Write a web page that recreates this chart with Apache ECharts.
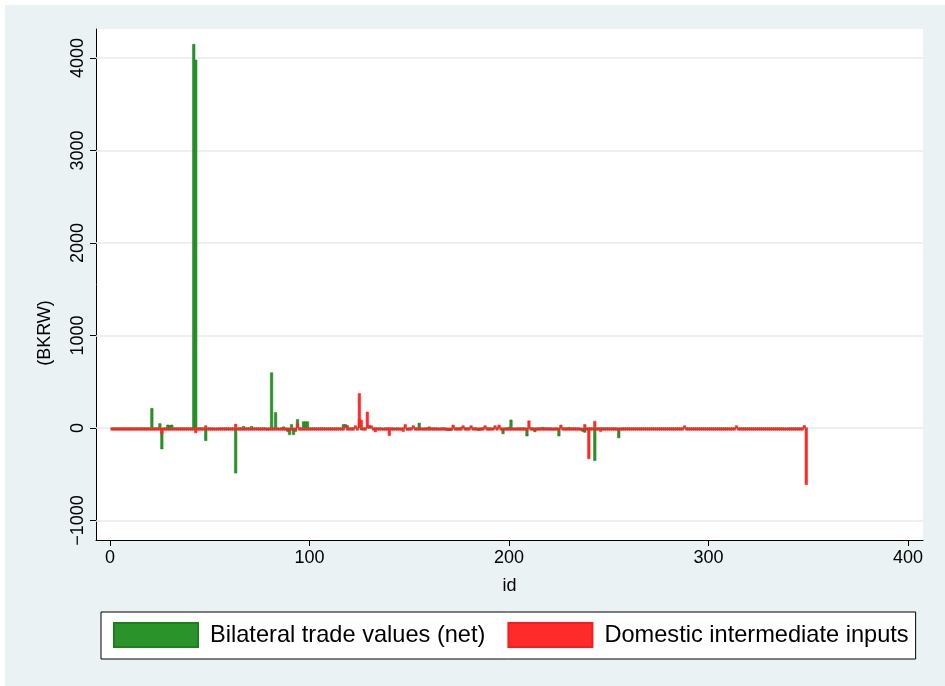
<!DOCTYPE html>
<html>
<head>
<meta charset="utf-8">
<script src="https://cdn.jsdelivr.net/npm/echarts@6/dist/echarts.min.js"></script>
<style>
html,body{margin:0;padding:0;background:#fff;}
#chart{width:945px;height:686px;}
</style>
</head>
<body>
<div id="chart"></div>
<script>
// Series values for id = 1 .. 349 (BKRW)
var bilateralNet = [
  0,0,0,0,0,0,0,0,0,0,
  0,0,0,0,0,0,0,0,0,0,
  215,0,0,0,50,-230,0,0,35,30,
  35,0,0,0,0,0,0,0,0,0,
  0,4150,3980,0,0,0,0,-140,0,0,
  0,0,-20,0,0,0,0,5,0,0,
  0,0,-490,0,0,0,20,0,0,0,
  20,0,0,0,0,0,0,0,-25,0,
  600,0,170,0,-15,0,15,0,-40,-75,
  40,-75,-40,95,0,0,70,70,70,0,
  0,0,0,0,0,5,0,0,0,0,
  0,0,0,0,0,0,40,40,30,0,
  0,0,0,0,100,-25,0,0,0,0,
  0,0,0,0,0,0,-20,0,0,0,
  0,0,-10,0,0,-15,0,0,-25,0,
  0,0,0,0,55,0,-10,0,0,15,
  0,0,0,0,-20,0,0,0,-30,-30,
  -30,0,0,0,0,10,0,0,0,0,
  0,0,0,0,-30,0,0,0,0,0,
  0,-15,0,0,0,0,-65,0,0,10,
  90,0,-10,0,0,0,0,0,-90,0,
  0,0,-45,0,0,0,10,0,0,0,
  0,-25,0,0,-90,0,0,0,0,10,
  0,0,0,0,0,-25,-40,-50,0,0,
  0,0,-355,0,0,0,0,0,0,0,
  0,0,0,0,-110,0,0,0,0,0,
  0,0,0,0,0,0,0,0,0,0,
  0,0,0,0,0,0,0,0,0,0,
  0,0,0,0,0,0,0,0,0,0,
  0,0,0,0,0,0,0,0,0,0,
  0,0,0,0,0,0,0,0,0,0,
  0,0,0,0,0,0,0,0,0,0,
  0,0,0,0,0,0,0,0,0,0,
  0,0,0,0,0,0,0,0,-5,0,
  0,0,0,0,0,0,0,0,0
];
var domesticInputs = [
  0,0,0,0,0,0,0,0,0,0,
  0,0,0,0,0,0,0,0,0,0,
  0,0,0,0,0,-65,0,0,0,0,
  0,0,0,0,0,0,0,0,0,0,
  0,0,-55,0,0,0,0,10,0,0,
  0,0,0,0,0,0,0,0,0,0,
  0,0,45,0,0,0,0,0,0,0,
  0,0,0,0,0,0,0,0,0,0,
  0,0,0,0,0,0,0,0,0,0,
  0,0,0,50,0,0,0,0,0,0,
  0,0,0,0,0,0,0,0,0,0,
  0,0,0,0,0,0,0,30,0,0,
  0,0,10,0,375,85,0,0,175,30,
  15,0,-45,0,0,0,0,0,0,-85,
  0,0,0,0,0,0,-40,40,0,0,
  -15,25,-20,0,0,0,0,0,0,0,
  0,0,0,0,0,0,0,0,0,0,
  0,35,0,0,0,0,10,0,0,0,
  20,0,0,0,0,0,0,15,0,0,
  0,0,20,0,35,0,0,0,0,0,
  0,0,0,0,0,0,0,0,0,80,
  0,-20,0,0,0,0,0,0,0,0,
  -20,0,0,0,0,35,-20,0,0,0,
  0,0,0,0,0,0,0,40,0,-335,
  0,0,75,0,0,-40,0,0,0,0,
  0,0,0,0,0,0,0,0,0,0,
  0,0,0,0,0,0,0,0,0,0,
  0,0,0,0,0,0,0,0,0,0,
  0,0,0,-10,0,0,0,5,0,0,
  0,0,0,0,0,0,0,0,0,0,
  0,0,0,0,0,0,0,0,0,0,
  0,0,0,5,0,0,0,0,0,0,
  0,0,0,0,0,0,0,0,0,0,
  0,0,0,0,0,0,0,0,0,0,
  0,0,0,0,0,0,0,30,-615
];
var firstId = 1;
var xTicks = [0, 100, 200, 300, 400];
var yTicks = [-1000, 0, 1000, 2000, 3000, 4000];
var seriesNames = ['Bilateral trade values (net)', 'Domestic intermediate inputs'];

function toPairs(arr) {
  return arr.map(function (v, i) { return [firstId + i, v]; });
}
function minusFmt(v) { return String(v).replace('-', '\u2212'); }

var FONT = 'Liberation Sans, Arial, sans-serif';
var chart = echarts.init(document.getElementById('chart'), null, {renderer: 'canvas'});
chart.setOption({
  backgroundColor: '#ffffff',
  animation: false,
  textStyle: {fontFamily: FONT, color: '#000'},
  graphic: [
    {type: 'rect', z: -10, silent: true, shape: {x: 5, y: 5, width: 940, height: 681}, style: {fill: '#eaf2f3'}},
    {type: 'text', x: 45, y: 333, rotation: Math.PI / 2, z: 10,
     style: {text: '(BKRW)', font: '18px ' + FONT, fill: '#000', align: 'center', verticalAlign: 'middle'}}
  ],
  grid: {left: 96, right: 22, top: 29, bottom: 146, show: true, backgroundColor: '#ffffff', borderWidth: 0},
  legend: {
    left: 101, top: 612,
    orient: 'horizontal',
    backgroundColor: '#ffffff', borderColor: '#000', borderWidth: 1,
    padding: [10, 7, 11, 12],
    itemWidth: 84, itemHeight: 24, itemGap: 22,
    icon: 'rect',
    textStyle: {fontFamily: FONT, fontSize: 23.6, color: '#000', padding: [0, 0, 0, 7]},
    data: seriesNames
  },
  xAxis: {
    type: 'value', min: -7, max: 407.5,
    name: 'id', nameLocation: 'middle', nameGap: 37,
    nameTextStyle: {fontFamily: FONT, fontSize: 18, color: '#000'},
    axisLine: {show: true, onZero: false, lineStyle: {color: '#000', width: 1}},
    axisTick: {show: true, length: 6, lineStyle: {color: '#000'}, customValues: xTicks},
    axisLabel: {show: true, fontSize: 18, color: '#000', margin: 9, customValues: xTicks, formatter: minusFmt},
    splitLine: {show: false}
  },
  yAxis: {
    type: 'value', min: -1211, max: 4313,
    axisLine: {show: true, onZero: false, lineStyle: {color: '#000', width: 1}},
    axisTick: {show: true, length: 6, lineStyle: {color: '#000'}, customValues: yTicks},
    axisLabel: {show: true, fontSize: 18, color: '#000', margin: 9, rotate: 90, customValues: yTicks, formatter: minusFmt},
    splitLine: {show: false}
  },
  series: [
    {
      name: seriesNames[0], type: 'bar', z: 2,
      data: toPairs(bilateralNet),
      barWidth: 3, barGap: '-100%',
      itemStyle: {color: '#2a932a', borderColor: '#1d7f1d', borderWidth: 0.5},
      markLine: {
        silent: true, symbol: 'none', z: 1,
        label: {show: false},
        lineStyle: {color: '#e4ecef', width: 1.5, type: 'solid'},
        data: yTicks.map(function (t) { return {yAxis: t}; })
      }
    },
    {
      name: seriesNames[1], type: 'bar', z: 3,
      data: toPairs(domesticInputs),
      barWidth: 3, barGap: '-100%', barMinHeight: 2.5,
      itemStyle: {color: '#ff2a2a', borderColor: '#ff1a1a', borderWidth: 0.5}
    }
  ]
});
</script>
</body>
</html>
